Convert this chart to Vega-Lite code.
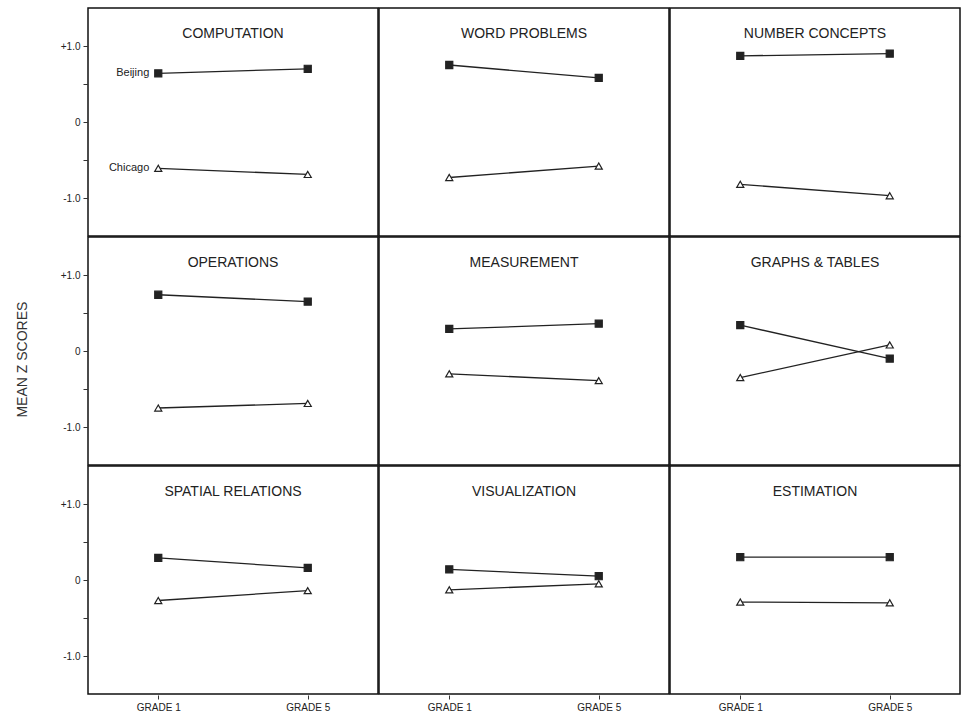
{
  "$schema": "https://vega.github.io/schema/vega-lite/v6.json",
  "padding": {"left": 16, "top": 7, "right": 0, "bottom": 0},
  "background": "white",
  "title": {"text": "MEAN Z SCORES", "orient": "left", "anchor": "middle", "font": "Liberation Sans", "fontSize": 14, "fontWeight": "normal", "color": "#333", "offset": 30},
  "config": {
    "view": {"stroke": "#111", "strokeWidth": 1.5},
    "font": "Liberation Sans",
    "facet": {"spacing": -2}
  },
  "data": {"values": [
    {"subject": "COMPUTATION", "grade": "GRADE 1", "city": "Beijing", "z": 0.64},
    {"subject": "COMPUTATION", "grade": "GRADE 5", "city": "Beijing", "z": 0.70},
    {"subject": "COMPUTATION", "grade": "GRADE 1", "city": "Chicago", "z": -0.61},
    {"subject": "COMPUTATION", "grade": "GRADE 5", "city": "Chicago", "z": -0.69},
    {"subject": "WORD PROBLEMS", "grade": "GRADE 1", "city": "Beijing", "z": 0.75},
    {"subject": "WORD PROBLEMS", "grade": "GRADE 5", "city": "Beijing", "z": 0.58},
    {"subject": "WORD PROBLEMS", "grade": "GRADE 1", "city": "Chicago", "z": -0.73},
    {"subject": "WORD PROBLEMS", "grade": "GRADE 5", "city": "Chicago", "z": -0.58},
    {"subject": "NUMBER CONCEPTS", "grade": "GRADE 1", "city": "Beijing", "z": 0.87},
    {"subject": "NUMBER CONCEPTS", "grade": "GRADE 5", "city": "Beijing", "z": 0.90},
    {"subject": "NUMBER CONCEPTS", "grade": "GRADE 1", "city": "Chicago", "z": -0.82},
    {"subject": "NUMBER CONCEPTS", "grade": "GRADE 5", "city": "Chicago", "z": -0.97},
    {"subject": "OPERATIONS", "grade": "GRADE 1", "city": "Beijing", "z": 0.74},
    {"subject": "OPERATIONS", "grade": "GRADE 5", "city": "Beijing", "z": 0.65},
    {"subject": "OPERATIONS", "grade": "GRADE 1", "city": "Chicago", "z": -0.75},
    {"subject": "OPERATIONS", "grade": "GRADE 5", "city": "Chicago", "z": -0.69},
    {"subject": "MEASUREMENT", "grade": "GRADE 1", "city": "Beijing", "z": 0.29},
    {"subject": "MEASUREMENT", "grade": "GRADE 5", "city": "Beijing", "z": 0.36},
    {"subject": "MEASUREMENT", "grade": "GRADE 1", "city": "Chicago", "z": -0.30},
    {"subject": "MEASUREMENT", "grade": "GRADE 5", "city": "Chicago", "z": -0.39},
    {"subject": "GRAPHS & TABLES", "grade": "GRADE 1", "city": "Beijing", "z": 0.34},
    {"subject": "GRAPHS & TABLES", "grade": "GRADE 5", "city": "Beijing", "z": -0.10},
    {"subject": "GRAPHS & TABLES", "grade": "GRADE 1", "city": "Chicago", "z": -0.35},
    {"subject": "GRAPHS & TABLES", "grade": "GRADE 5", "city": "Chicago", "z": 0.08},
    {"subject": "SPATIAL RELATIONS", "grade": "GRADE 1", "city": "Beijing", "z": 0.29},
    {"subject": "SPATIAL RELATIONS", "grade": "GRADE 5", "city": "Beijing", "z": 0.16},
    {"subject": "SPATIAL RELATIONS", "grade": "GRADE 1", "city": "Chicago", "z": -0.27},
    {"subject": "SPATIAL RELATIONS", "grade": "GRADE 5", "city": "Chicago", "z": -0.14},
    {"subject": "VISUALIZATION", "grade": "GRADE 1", "city": "Beijing", "z": 0.14},
    {"subject": "VISUALIZATION", "grade": "GRADE 5", "city": "Beijing", "z": 0.05},
    {"subject": "VISUALIZATION", "grade": "GRADE 1", "city": "Chicago", "z": -0.13},
    {"subject": "VISUALIZATION", "grade": "GRADE 5", "city": "Chicago", "z": -0.05},
    {"subject": "ESTIMATION", "grade": "GRADE 1", "city": "Beijing", "z": 0.30},
    {"subject": "ESTIMATION", "grade": "GRADE 5", "city": "Beijing", "z": 0.30},
    {"subject": "ESTIMATION", "grade": "GRADE 1", "city": "Chicago", "z": -0.29},
    {"subject": "ESTIMATION", "grade": "GRADE 5", "city": "Chicago", "z": -0.30}
  ]},
  "facet": {
    "field": "subject",
    "type": "nominal",
    "sort": ["COMPUTATION", "WORD PROBLEMS", "NUMBER CONCEPTS", "OPERATIONS", "MEASUREMENT", "GRAPHS & TABLES", "SPATIAL RELATIONS", "VISUALIZATION", "ESTIMATION"],
    "header": {"title": null, "labelOrient": "top", "labelPadding": -33, "labelFontSize": 14, "labelFont": "Liberation Sans", "labelColor": "#222", "labelAnchor": "middle"}
  },
  "columns": 3,
  "spec": {
    "width": 290,
    "height": 228,
    "encoding": {
      "x": {"field": "grade", "type": "nominal", "title": null,
            "scale": {"type": "point", "padding": 0.47},
            "axis": {"labelAngle": 0, "labelFontSize": 10, "labelColor": "#222", "domain": false, "tickColor": "#333", "tickSize": 4, "labelPadding": 3}},
      "y": {"field": "z", "type": "quantitative", "title": null,
            "scale": {"domain": [-1.5, 1.5], "nice": false},
            "axis": {"values": [-1, -0.5, 0, 0.5, 1], "grid": false, "domain": false, "tickSize": 4, "tickColor": "#333", "labelFontSize": 10, "labelColor": "#222", "labelPadding": 3,
                     "labelExpr": "datum.value == 1 ? '+1.0' : datum.value == 0 ? '0' : datum.value == -1 ? '-1.0' : ''"}}
    },
    "layer": [
      {"mark": {"type": "line", "color": "#222", "strokeWidth": 1.3},
       "encoding": {"detail": {"field": "city"}}},
      {"mark": {"type": "point", "size": 50, "strokeWidth": 1.2, "opacity": 1},
       "encoding": {
         "shape": {"field": "city", "type": "nominal", "scale": {"domain": ["Beijing", "Chicago"], "range": ["square", "triangle-up"]}, "legend": null},
         "fill": {"field": "city", "type": "nominal", "scale": {"domain": ["Beijing", "Chicago"], "range": ["#222", "white"]}, "legend": null},
         "stroke": {"value": "#222"}
       }},
      {"transform": [{"filter": "datum.subject == 'COMPUTATION' && datum.grade == 'GRADE 1'"}],
       "mark": {"type": "text", "align": "right", "dx": -9, "fontSize": 11, "color": "#222"},
       "encoding": {"text": {"field": "city"}}}
    ]
  }
}
